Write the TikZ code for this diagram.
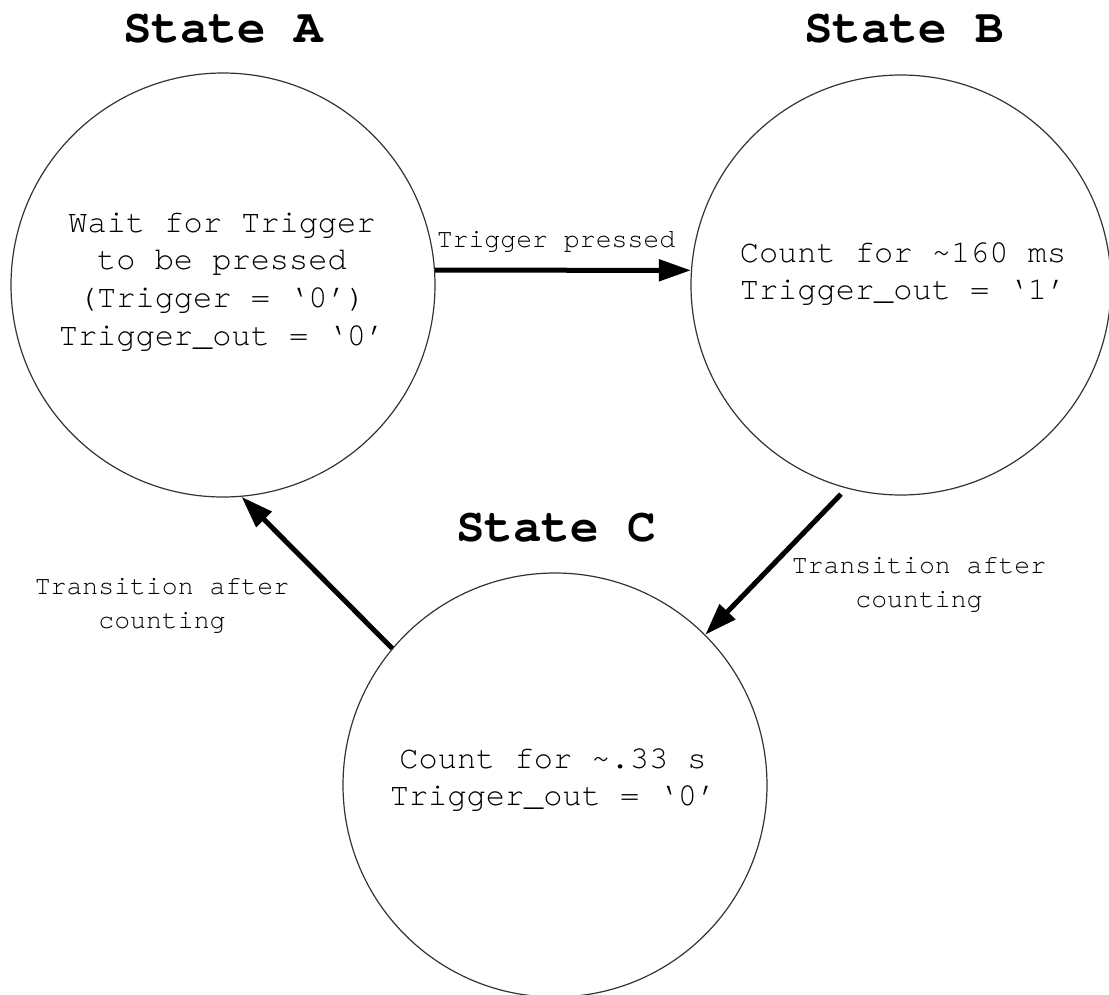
\documentclass[tikz,border=0pt]{standalone}
\usepackage{fontspec}
\setmainfont{TeX Gyre Cursor}
\usetikzlibrary{arrows.meta}
\tikzset{
  statecirc/.style={circle, draw=black!80, line width=1.2pt, minimum size=424pt, inner sep=0pt},
  titletext/.style={font=\fontsize{47.6}{50}\selectfont\bfseries, inner sep=0pt},
  bodytext/.style={font=\fontsize{32}{37.7}\selectfont, align=center, inner sep=0pt},
  labeltext/.style={font=\fontsize{26.5}{33.5}\selectfont, align=center, inner sep=0pt},
  trans/.style={line width=5pt, -{Triangle[length=32pt,width=21pt]}}
}
\begin{document}
\begin{tikzpicture}[x=1pt,y=-1pt]
\useasboundingbox[fill=white] (0,0) rectangle (1109,994);
% states
\node[statecirc] (A) at (223,285) {};
\node[statecirc, minimum size=420pt] (B) at (901,285) {};
\node[statecirc] (C) at (555,785) {};
% titles
\node[titletext] (tA) at (223,29) {State A};
\node[titletext] (tB) at (904,29) {State B};
\node[titletext] (tC) at (556,528) {State C};
% body texts
\node[bodytext] (xA) at (222,282) {Wait for Trigger\\to be pressed\\(Trigger = ‘0’)\\Trigger\_out = ‘0’};
\node[bodytext] (xB) at (903,274) {Count for \textasciitilde160 ms\\Trigger\_out = ‘1’};
\node[bodytext] (xC) at (553,780) {Count for \textasciitilde.33 s\\Trigger\_out = ‘0’};
% transitions
\draw[trans] (A.4) -- (B.176);
\draw[trans, shorten <=8pt] (B.255) -- (C.45);
\draw[trans] (C.140) -- (A.275);
% labels
\node[labeltext] (lAB) at (556,242) {Trigger pressed};
\node[labeltext] (lBC) at (919,585) {Transition after\\counting};
\node[labeltext] (lCA) at (162,606) {Transition after\\counting};
\end{tikzpicture}
\end{document}
